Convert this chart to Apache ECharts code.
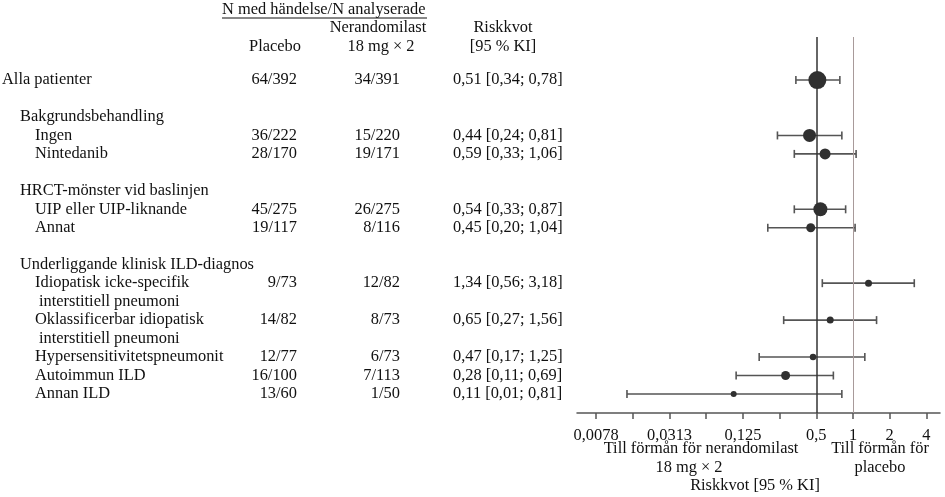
<!DOCTYPE html>
<html>
<head>
<meta charset="utf-8">
<script src="https://cdn.jsdelivr.net/npm/echarts@6/dist/echarts.min.js"></script>
<style>
html,body{margin:0;padding:0;background:#fff;}
#chart{width:945px;height:497px;}
</style>
</head>
<body>
<div id="chart"></div>
<script>
// ---------- DATA ----------
const rowLabels = ['Alla patienter','Bakgrundsbehandling','Ingen','Nintedanib','HRCT-mönster vid baslinjen','UIP eller UIP-liknande','Annat','Underliggande klinisk ILD-diagnos','Idiopatisk icke-specifik','interstitiell pneumoni','Oklassificerbar idiopatisk','interstitiell pneumoni','Hypersensitivitetspneumonit','Autoimmun ILD','Annan ILD'];
const rowIndex  = [0,2,3,4,6,7,8,10,11,12,13,14,15,16,17];
const rowLevel  = [0,1,2,2,1,2,2,1,2,3,2,3,2,2,2];

const subgroupRow   = [0,3,4,7,8,11,13,15,16,17];
const placebo       = ['64/392','36/222','28/170','45/275','19/117','9/73','14/82','12/77','16/100','13/60'];
const nerandomilast = ['34/391','15/220','19/171','26/275','8/116','12/82','8/73','6/73','7/113','1/50'];
const hrLabel       = ['0,51 [0,34; 0,78]','0,44 [0,24; 0,81]','0,59 [0,33; 1,06]','0,54 [0,33; 0,87]','0,45 [0,20; 1,04]','1,34 [0,56; 3,18]','0,65 [0,27; 1,56]','0,47 [0,17; 1,25]','0,28 [0,11; 0,69]','0,11 [0,01; 0,81]'];
const hr            = [0.51,0.44,0.59,0.54,0.45,1.34,0.65,0.47,0.28,0.105];
const ciLow         = [0.34,0.24,0.33,0.33,0.20,0.56,0.27,0.17,0.11,0.014];
const ciHigh        = [0.78,0.81,1.06,0.87,1.04,3.18,1.56,1.25,0.69,0.81];
const weight        = [18,13,11,14,9,7,7,6.5,9,6];

const tickExponents = [-7,-6,-5,-4,-3,-2,-1,0,1,2];
const labelExponents = [-7,-5,-3,-1,0,1,2];
const tickLabels = ['0,0078','0,0313','0,125','0,5','1','2','4'];
const refLines = [0.5, 1];

// ---------- CHART ----------
const FONT = '"Liberation Serif", "DejaVu Serif", serif';
const FS = 16.4;
const TXT = '#111';
const log2 = v => Math.log2(v);
const chart = echarts.init(document.getElementById('chart'), null, {renderer:'canvas'});

const labelMap = {};
labelExponents.forEach((e,i)=>{ labelMap[e] = tickLabels[i]; });

const option = {
  animation:false,
  backgroundColor:'#fff',
  grid:{left:577, right:5, top:37, bottom:84},
  xAxis:{
    type:'value', min:-7.52, max:2.37,
    splitLine:{show:false},
    axisLine:{show:true, onZero:false, lineStyle:{color:'#555', width:1.5}},
    axisTick:{show:true, length:6, inside:false, lineStyle:{color:'#555', width:1.5}, customValues:tickExponents},
    axisLabel:{show:true, customValues:labelExponents, margin:15, color:TXT, fontFamily:FONT, fontSize:FS,
      formatter:v=> labelMap[Math.round(v)] || ''}
  },
  yAxis:{type:'value', inverse:true, min:-2.33, max:18.03, show:false},
  series:[
    {
      type:'custom',
      z:2,
      data: subgroupRow.map((r,i)=>[log2(ciLow[i]), log2(ciHigh[i]), r]),
      renderItem:(params, api)=>{
        const p1 = api.coord([api.value(0), api.value(2)]);
        const p2 = api.coord([api.value(1), api.value(2)]);
        const h = 4;
        const st = {stroke:'#555', lineWidth:1.6};
        return {type:'group', children:[
          {type:'line', shape:{x1:p1[0],y1:p1[1],x2:p2[0],y2:p2[1]}, style:st},
          {type:'line', shape:{x1:p1[0],y1:p1[1]-h,x2:p1[0],y2:p1[1]+h}, style:st},
          {type:'line', shape:{x1:p2[0],y1:p2[1]-h,x2:p2[0],y2:p2[1]+h}, style:st}
        ]};
      }
    },
    {
      type:'scatter',
      z:5,
      data: subgroupRow.map((r,i)=>[log2(hr[i]), r]),
      symbol:'circle',
      symbolSize:(v, p)=>weight[p.dataIndex],
      itemStyle:{color:'#303030', opacity:1},
      markLine:{
        silent:true, symbol:'none', label:{show:false},
        data:[
          {xAxis:log2(refLines[0]), lineStyle:{color:'#333', width:1.5, type:'solid'}},
          {xAxis:log2(refLines[1]), lineStyle:{color:'#a89a9a', width:1, type:'solid'}}
        ]
      }
    }
  ]
};
chart.setOption(option);

// ---------- TEXT TABLE ----------
const yOf = r => chart.convertToPixel({yAxisIndex:0}, r);
const indent = [2,20,35,39];
const g = [];
function txt(text, x, y, align){
  g.push({type:'text', x:x, y:y, style:{text:text, fill:TXT, font:FS+'px '+FONT, textAlign:align||'left', textVerticalAlign:'middle'}});
}
rowLabels.forEach((t,i)=>txt(t, indent[rowLevel[i]], yOf(rowIndex[i]), 'left'));
subgroupRow.forEach((r,i)=>{
  const y = yOf(r);
  txt(placebo[i], 297, y, 'right');
  txt(nerandomilast[i], 400, y, 'right');
  txt(hrLabel[i], 453, y, 'left');
});
// headers
txt('N med händelse/N analyserade', 222, 10, 'left');
g.push({type:'line', shape:{x1:222,y1:18,x2:427,y2:18}, style:{stroke:TXT, lineWidth:1}});
txt('Placebo', 275, 47, 'center');
txt('Nerandomilast', 378, 28, 'center');
txt('18 mg × 2', 381, 47, 'center');
txt('Riskkvot', 503, 28, 'center');
txt('[95 % KI]', 503, 47, 'center');
// axis captions
txt('Till förmån för nerandomilast', 701, 449, 'center');
txt('18 mg × 2', 689, 468, 'center');
txt('Till förmån för', 880, 449, 'center');
txt('placebo', 880, 468, 'center');
txt('Riskkvot [95 % KI]', 755, 486, 'center');

chart.setOption({graphic:g});
</script>
</body>
</html>
